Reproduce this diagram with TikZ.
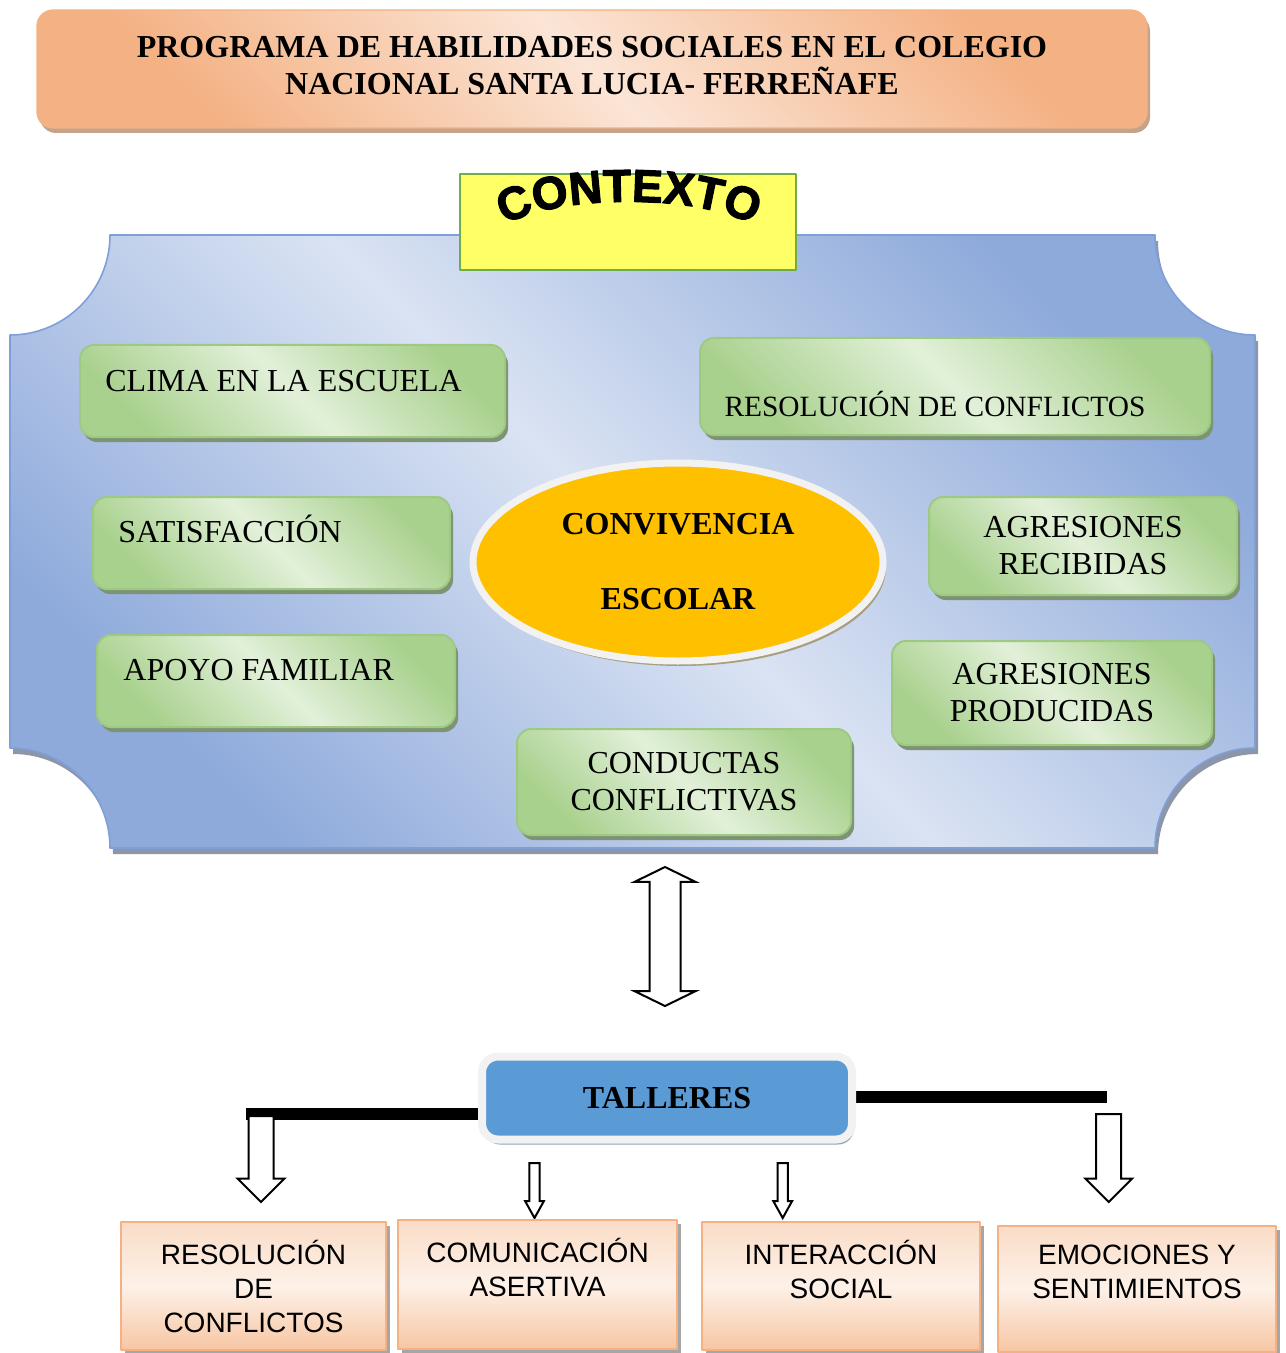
\documentclass[tikz,border=0pt]{standalone}
\usepackage{fontspec}
\setmainfont{Liberation Serif}
\setsansfont{Liberation Sans}
\newfontfamily\ctxfam{Liberation Sans Bold}[FakeBold=2.5]
\usepackage{tikz}
\usetikzlibrary{shapes.geometric,shapes.arrows,shadows,decorations.text,backgrounds}

\definecolor{frameDark}{HTML}{8EAADB}
\definecolor{frameLight}{HTML}{DAE3F3}
\definecolor{frameLine}{HTML}{7F9FD8}
\definecolor{frameShadow}{HTML}{8C96A8}
\definecolor{greenDark}{HTML}{A9D18E}
\definecolor{greenLight}{HTML}{E2F0D9}
\definecolor{greenLine}{HTML}{9DC983}
\definecolor{greenShadow}{HTML}{7E9374}
\definecolor{peachDark}{HTML}{F4B183}
\definecolor{peachLight}{HTML}{FBE5D6}
\definecolor{titleShadow}{HTML}{C4A38B}
\definecolor{ctxYellow}{HTML}{FFFF66}
\definecolor{ctxLine}{HTML}{70AD47}
\definecolor{convOrange}{HTML}{FFC000}
\definecolor{convRim}{HTML}{F2F2F2}
\definecolor{convShadow}{HTML}{A89E80}
\definecolor{tallBlue}{HTML}{5B9BD5}
\definecolor{tallShadow}{HTML}{8EA3BF}
\definecolor{boxTop}{HTML}{FADCC7}
\definecolor{boxMid}{HTML}{FDF1E8}
\definecolor{boxBottom}{HTML}{F7C6A3}
\definecolor{boxShadow}{HTML}{A6A6A6}

\newcommand\ctxfont{\fontsize{23}{23}\selectfont\ctxfam}

\tikzset{
  titlebox/.style={draw=peachDark, line width=0.6pt, rounded corners=8pt,
    left color=peachDark, right color=peachDark, middle color=peachLight, shading angle=135,
    drop shadow={shadow xshift=1.5pt, shadow yshift=-2.5pt, fill=titleShadow, opacity=1},
    align=center, font=\fontsize{16}{18.5}\selectfont\bfseries},
  framestyle/.style={draw=frameLine, line width=0.8pt,
    left color=frameDark, right color=frameDark, middle color=frameLight, shading angle=135},
  ctxbox/.style={draw=ctxLine, line width=0.6pt, fill=ctxYellow},
  gbox/.style={draw=greenLine, line width=1pt, rounded corners=7pt,
    left color=greenDark, right color=greenDark, middle color=greenLight, shading angle=135,
    drop shadow={shadow xshift=1.5pt, shadow yshift=-2.5pt, fill=greenShadow, opacity=1},
    align=center, font=\fontsize{16}{18.5}\selectfont},
  gtext/.style={inner sep=0pt, text height=11pt, text depth=0pt, font=\fontsize{16}{18.5}\selectfont},
  convell/.style={ellipse, draw=convRim, line width=3.5pt, fill=convOrange, inner sep=0pt,
    drop shadow={shadow xshift=1.5pt, shadow yshift=-2.5pt, fill=convShadow, opacity=1},
    align=center, font=\fontsize{16}{37.5}\selectfont\bfseries},
  tallbox/.style={draw=convRim, line width=4pt, rounded corners=8pt, fill=tallBlue,
    drop shadow={shadow xshift=1pt, shadow yshift=-2.5pt, fill=tallShadow, opacity=1},
    font=\fontsize{16}{18.5}\selectfont\bfseries},
  bar/.style={line width=6pt, line cap=butt, black},
  blockarrow/.style={draw=black, line width=1pt, fill=white, line join=miter},
  downarrow/.style={blockarrow, single arrow, shape border rotate=270, anchor=tail},
  pbox/.style={draw=peachDark, line width=1pt,
    top color=boxTop, bottom color=boxBottom, middle color=boxMid,
    drop shadow={shadow xshift=2pt, shadow yshift=-2pt, fill=boxShadow, opacity=1},
    align=center, font=\fontsize{14}{17}\selectfont\sffamily}
}

\begin{document}
\begin{tikzpicture}[x=0.5pt,y=-0.5pt,line join=round]
\useasboundingbox (0,0) rectangle (1285,1353);

% titulo
\node[titlebox, minimum width=555pt, minimum height=59pt, text depth=4pt] (title) at (592,69)
  {PROGRAMA DE HABILIDADES SOCIALES EN EL COLEGIO\\NACIONAL SANTA LUCIA- FERREÑAFE};

% marco del contexto
\fill[frameShadow, xshift=1.5pt, yshift=-3pt] (110,235) -- (1155,235) .. controls (1155,290.2) and (1199.8,335) .. (1255,335) -- (1255,748) .. controls (1199.8,748) and (1155,792.8) .. (1155,848) -- (110,848) .. controls (110,792.8) and (65.2,748) .. (10,748) -- (10,335) .. controls (65.2,335) and (110,290.2) .. (110,235) -- cycle;
\shadedraw[framestyle] (110,235) -- (1155,235) .. controls (1155,290.2) and (1199.8,335) .. (1255,335) -- (1255,748) .. controls (1199.8,748) and (1155,792.8) .. (1155,848) -- (110,848) .. controls (110,792.8) and (65.2,748) .. (10,748) -- (10,335) .. controls (65.2,335) and (110,290.2) .. (110,235) -- cycle;

\node[ctxbox, minimum width=168pt, minimum height=48pt] (ctx) at (628,222) {};
\path[decorate, decoration={text along path, text={|\ctxfont|CONTEXTO}, text align=center}]
  (500,228) .. controls (550,193) and (706,193) .. (758,228);

% factores
\node[gbox, minimum width=212.5pt, minimum height=46pt] (clima) at (292.5,391) {};
\node[gtext, anchor=west] (climaT) at (105,380) {CLIMA EN LA ESCUELA};
\node[gbox, minimum width=255pt, minimum height=48.5pt] (resol) at (955,386.5) {};
\node[gtext, font=\fontsize{14.7}{17}\selectfont] (resolT) at (935,405) {RESOLUCIÓN DE CONFLICTOS};
\node[gbox, minimum width=178.5pt, minimum height=46pt] (satis) at (271.5,543) {};
\node[gtext, anchor=west] (satisT) at (118,531) {SATISFACCIÓN};
\node[gbox, minimum width=179pt, minimum height=46pt] (apoyo) at (276,681) {};
\node[gtext, anchor=west] (apoyoT) at (123,669) {APOYO FAMILIAR};
\node[gbox, minimum width=154pt, minimum height=49pt] (agrec) at (1083,546) {AGRESIONES\\RECIBIDAS};
\node[gbox, minimum width=160pt, minimum height=52pt] (agprod) at (1052,693) {AGRESIONES\\PRODUCIDAS};
\node[gbox, minimum width=167pt, minimum height=53pt] (conduc) at (684,782) {CONDUCTAS\\CONFLICTIVAS};

\node[convell, minimum width=205pt, minimum height=99pt] (conv) at (678,562) {CONVIVENCIA\\ESCOLAR};

% flecha doble
\node[blockarrow, double arrow, shape border rotate=90, inner sep=7.25pt, minimum height=69.5pt,
  double arrow head extend=7.5pt, double arrow tip angle=128] (link) at (665,936.5) {};

% talleres
\node[tallbox, minimum width=185pt, minimum height=41.5pt] (tall) at (667,1098) {TALLERES};
\coordinate (lbar) at (246,1114);
\coordinate (rbar) at (1107,1097);
\begin{scope}[on background layer]
\draw[bar] (tall.west |- lbar) -- (lbar);
\draw[bar] (tall.east |- rbar) -- (rbar);
\end{scope}

\node[downarrow, inner sep=5.75pt, minimum height=43pt,
  single arrow head extend=5.5pt, single arrow tip angle=90] (arrA) at (261,1115) {};
\node[downarrow, inner sep=2.1pt, minimum height=27.5pt,
  single arrow head extend=2.1pt, single arrow tip angle=58] (arrB) at (534.5,1162) {};
\node[downarrow, inner sep=2.1pt, minimum height=27.5pt,
  single arrow head extend=2.1pt, single arrow tip angle=58] (arrC) at (782.7,1162) {};
\node[downarrow, inner sep=5.75pt, minimum height=44pt,
  single arrow head extend=5.5pt, single arrow tip angle=90] (arrD) at (1108.7,1113) {};

% talleres del programa
\node[pbox, minimum width=132.5pt, minimum height=64pt] (resB) at (253.5,1286) {RESOLUCIÓN\\DE\\CONFLICTOS};
\node[pbox, minimum width=139.5pt, minimum height=64.5pt] (comB) at (537.5,1284.5) {COMUNICACIÓN\\ASERTIVA\\~};
\node[pbox, minimum width=139pt, minimum height=64pt] (intB) at (841,1286) {INTERACCIÓN\\SOCIAL\\~};
\node[pbox, minimum width=139pt, minimum height=63pt] (emoB) at (1137,1289) {EMOCIONES Y\\SENTIMIENTOS\\~};
\end{tikzpicture}
\end{document}
